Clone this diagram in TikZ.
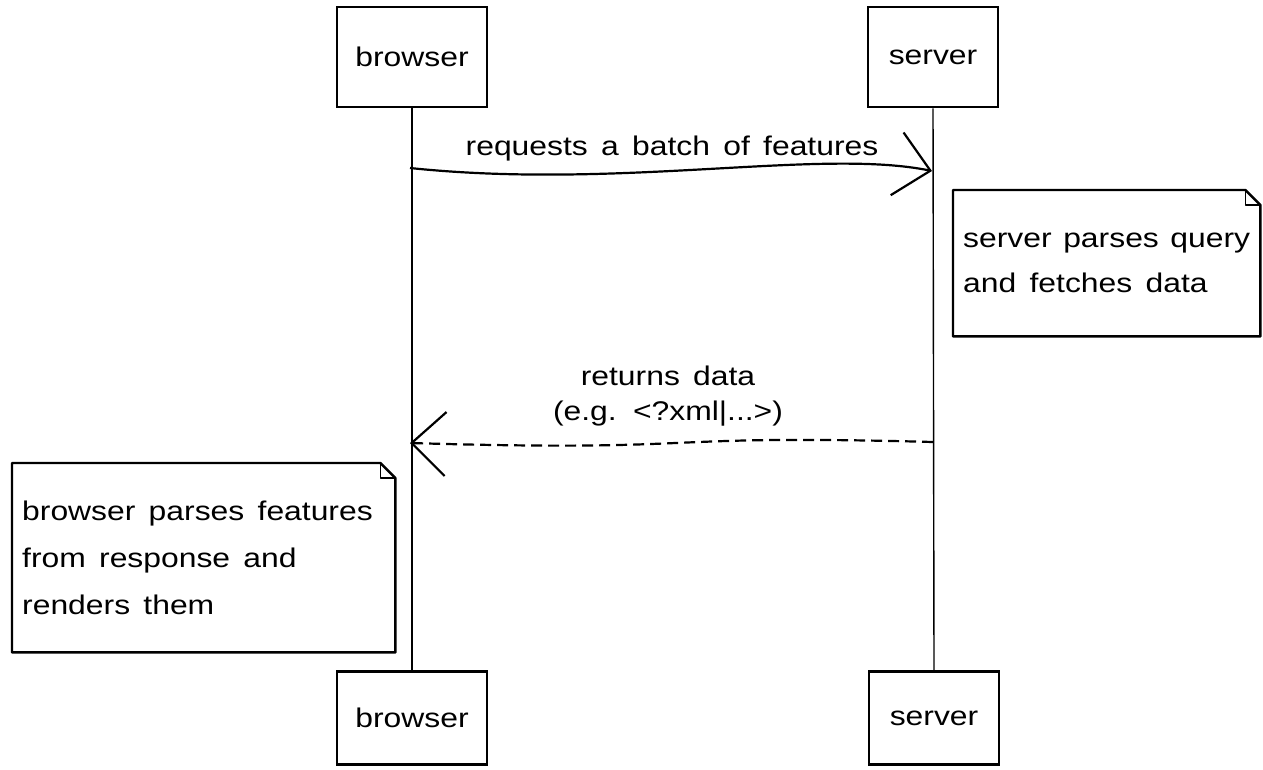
\documentclass[tikz,border=0pt]{standalone}
\usepackage{fontspec}
\setmainfont{Liberation Sans}
\newfontfamily\hand[FakeStretch=1.18,WordSpace=1.5]{Liberation Sans}
\usetikzlibrary{arrows.meta,calc}
\tikzset{
  handfont/.style={font=\hand\fontsize{27}{45}\selectfont},
  actor/.style={draw, line width=2.8pt, minimum height=100pt, inner sep=0pt, handfont},
  lifeline/.style={line width=1.4pt},
  msg/.style={line width=2.2pt, -{Straight Barb[length=34pt,width=64pt]}},
  reply/.style={msg, dash pattern=on 11pt off 6pt},
  notebox/.style={inner xsep=10pt, inner ysep=0pt, align=left, handfont, anchor=north west},
  notedraw/.style={line width=2.4pt, line join=round},
  label/.style={handfont, inner sep=0pt}
}
\begin{document}
\begin{tikzpicture}[x=1pt,y=-1pt]
\useasboundingbox (0,0) rectangle (1263,769);
% actors
\node[actor, minimum width=150pt] (bt) at (412,57) {browser};
\node[actor, minimum width=130pt] (st) at (933,57) {server};
\node[actor, minimum width=150pt, minimum height=93pt, line width=2.4pt] (bb) at (412,718) {browser};
\node[actor, minimum width=130pt, minimum height=93pt, line width=2.4pt] (sb) at (934,718) {server};
% lifelines
\draw[lifeline] (bt.south) -- (bb.north);
\draw[lifeline] (st.south) -- (sb.north);
% message 1
\coordinate (m1s) at (410,168);
\coordinate (m1e) at (932,171);
\draw[msg] (m1s) .. controls (620,190) and (820,148) .. (m1e);
\node[label] (l1) at (672,149) {requests a batch of features};
% server note
\node[notebox, minimum width=307pt, minimum height=146pt, text width=287pt] (sn) at (953,190) {\spaceskip=0pt \xspaceskip=0pt server parses query\\and fetches data};
\draw[notedraw] (sn.north west) -- ($(sn.north east)+(-15pt,0)$) -- ($(sn.north east)+(0,-15pt)$) -- (sn.south east) -- (sn.south west) -- cycle;
\draw[notedraw, line width=1.4pt] ($(sn.north east)+(-15pt,0)$) |- ($(sn.north east)+(0,-15pt)$);
% reply
\coordinate (m2s) at (933,442);
\coordinate (m2e) at (410,443);
\draw[reply] (m2s) .. controls (640,434) and (720,452) .. (m2e);
\node[label, align=center, font=\hand\fontsize{27}{35}\selectfont] (l2) at (668,396) {returns data\\(e.g. <?xml|...>)};
% browser note
\node[notebox, minimum width=383pt, minimum height=189pt, text width=363pt, font=\hand\fontsize{27}{47}\selectfont] (bn) at (12,463) {\spaceskip=0pt \xspaceskip=0pt browser parses features\\from response and\\renders them};
\draw[notedraw] (bn.north west) -- ($(bn.north east)+(-15pt,0)$) -- ($(bn.north east)+(0,-15pt)$) -- (bn.south east) -- (bn.south west) -- cycle;
\draw[notedraw, line width=1.4pt] ($(bn.north east)+(-15pt,0)$) |- ($(bn.north east)+(0,-15pt)$);
\end{tikzpicture}
\end{document}
